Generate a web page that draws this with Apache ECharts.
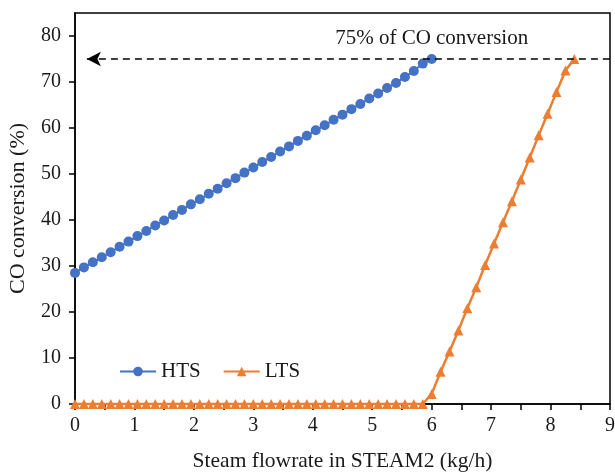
<!DOCTYPE html>
<html>
<head>
<meta charset="utf-8">
<script src="https://cdn.jsdelivr.net/npm/echarts@6/dist/echarts.min.js"></script>
<style>
  html, body { margin: 0; padding: 0; background: #fff; }
  #chart { width: 615px; height: 472px; }
</style>
</head>
<body>
<div id="chart"></div>
<script>
// steam flowrate in STEAM2 (kg/h)
var steamFlow = [0, 0.15, 0.3, 0.45, 0.6, 0.75, 0.9, 1.05, 1.2, 1.35,
  1.5, 1.65, 1.8, 1.95, 2.1, 2.25, 2.4, 2.55, 2.7, 2.85,
  3, 3.15, 3.3, 3.45, 3.6, 3.75, 3.9, 4.05, 4.2, 4.35,
  4.5, 4.65, 4.8, 4.95, 5.1, 5.25, 5.4, 5.55, 5.7, 5.85,
  6, 6.15, 6.3, 6.45, 6.6, 6.75, 6.9, 7.05, 7.2, 7.35,
  7.5, 7.65, 7.8, 7.95, 8.1, 8.25, 8.4];
// HTS CO conversion (%), first 41 flowrates
var htsConv = [28.5, 29.7, 30.8, 31.9, 33.0, 34.2, 35.3, 36.5, 37.6, 38.8,
  39.9, 41.1, 42.2, 43.4, 44.5, 45.7, 46.8, 48.0, 49.1, 50.3,
  51.4, 52.6, 53.7, 54.9, 56.0, 57.2, 58.3, 59.5, 60.6, 61.8,
  62.9, 64.1, 65.2, 66.4, 67.5, 68.7, 69.8, 71.1, 72.4, 74.0,
  75.0];
// LTS CO conversion (%)
var ltsConv = [0, 0, 0, 0, 0, 0, 0, 0, 0, 0,
  0, 0, 0, 0, 0, 0, 0, 0, 0, 0,
  0, 0, 0, 0, 0, 0, 0, 0, 0, 0,
  0, 0, 0, 0, 0, 0, 0, 0, 0, 0,
  2.2, 7.0, 11.4, 16.0, 20.8, 25.4, 30.2, 34.9, 39.5, 44.1,
  48.8, 53.6, 58.4, 63.1, 67.8, 72.5, 75.0];

var xLabels = [0, 1, 2, 3, 4, 5, 6, 7, 8, 9];
var xTicks = [0, 0.5, 1, 1.5, 2, 2.5, 3, 3.5, 4, 4.5, 5, 5.5, 6, 6.5, 7, 7.5, 8, 8.5, 9];
var yTicks = [0, 10, 20, 30, 40, 50, 60, 70, 80];
var target = 75;
var noteText = '75% of CO conversion';

function pairs(xs, ys) {
  var out = [];
  for (var i = 0; i < ys.length; i++) out.push([xs[i], ys[i]]);
  return out;
}

var font = 'Liberation Serif';
var chart = echarts.init(document.getElementById('chart'));
var option = {
  animation: false,
  color: ['#4472C4', '#ED7D31'],
  grid: {
    left: 75, right: 5, top: 13, bottom: 68,
    outerBoundsMode: 'none',
    show: true, borderColor: '#000', borderWidth: 1.5
  },
  legend: {
    left: 114, top: 356,
    itemWidth: 36, itemHeight: 12, itemGap: 22,
    textStyle: { fontFamily: font, fontSize: 21, color: '#1a1a1a' },
    data: ['HTS', 'LTS']
  },
  xAxis: {
    type: 'value', min: 0, max: 9,
    name: 'Steam flowrate in STEAM2 (kg/h)',
    nameLocation: 'middle', nameGap: 46,
    nameTextStyle: { fontFamily: font, fontSize: 21.5, color: '#1a1a1a' },
    axisLine: { lineStyle: { color: '#000', width: 1.5 } },
    axisTick: { customValues: xTicks, length: 6, lineStyle: { color: '#000', width: 1.5 } },
    axisLabel: { customValues: xLabels, margin: 12, fontFamily: font, fontSize: 20, color: '#1a1a1a' },
    splitLine: { show: false }
  },
  yAxis: {
    type: 'value', min: 0, max: 85,
    name: 'CO conversion (%)',
    nameLocation: 'middle', nameGap: 46,
    nameTextStyle: { fontFamily: font, fontSize: 22, color: '#1a1a1a' },
    axisLine: { show: true, lineStyle: { color: '#000', width: 1.5 } },
    axisTick: { show: true, customValues: yTicks, length: 6, lineStyle: { color: '#000', width: 1.5 } },
    axisLabel: { customValues: yTicks, margin: 14, fontFamily: font, fontSize: 20, color: '#1a1a1a' },
    splitLine: { show: false }
  },
  series: [
    {
      name: 'HTS',
      type: 'line',
      data: pairs(steamFlow, htsConv),
      symbol: 'circle',
      symbolSize: 10,
      lineStyle: { width: 2 },
      markLine: {
        silent: true,
        symbol: ['arrow', 'none'],
        symbolSize: [11, 14],
        label: { show: false },
        lineStyle: { color: '#000', type: [7, 5], width: 1.5 },
        data: [[{ coord: [0.2, target] }, { coord: [9, target] }]]
      },
      markPoint: {
        silent: true,
        symbol: 'circle', symbolSize: 0,
        label: {
          show: true, position: 'inside',
          fontFamily: font, fontSize: 21, color: '#1a1a1a',
          formatter: noteText
        },
        data: [{ coord: [6, 79.5] }]
      }
    },
    {
      name: 'LTS',
      type: 'line',
      data: pairs(steamFlow, ltsConv),
      symbol: 'triangle',
      symbolSize: 10,
      lineStyle: { width: 2.5 }
    }
  ]
};
chart.setOption(option);
</script>
</body>
</html>
